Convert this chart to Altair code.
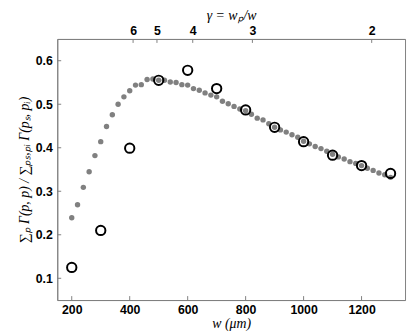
import altair as alt
import pandas as pd

# grey dots (model curve)
w_model = [200, 220, 240, 260, 280, 300, 320, 340, 360, 380,
           400, 420, 440, 460, 480, 500, 520, 540, 560, 580,
           600, 620, 640, 660, 680, 700, 720, 740, 760, 780,
           800, 820, 840, 860, 880, 900, 920, 940, 960, 980,
           1000, 1020, 1040, 1060, 1080, 1100, 1120, 1140, 1160, 1180,
           1200, 1220, 1240, 1260, 1280, 1300]
r_model = [0.239, 0.269, 0.309, 0.345, 0.382, 0.414, 0.449, 0.476, 0.500, 0.517,
           0.531, 0.544, 0.545, 0.557, 0.558, 0.555, 0.555, 0.551, 0.550, 0.545,
           0.544, 0.536, 0.532, 0.526, 0.521, 0.517, 0.507, 0.501, 0.495, 0.489,
           0.485, 0.477, 0.468, 0.464, 0.455, 0.447, 0.441, 0.436, 0.430, 0.424,
           0.415, 0.409, 0.403, 0.398, 0.392, 0.385, 0.379, 0.374, 0.368, 0.364,
           0.359, 0.353, 0.348, 0.342, 0.338, 0.332]

# open circles
w_meas = [200, 300, 400, 500, 600, 700, 800, 900, 1000, 1100, 1200, 1300]
r_meas = [0.125, 0.210, 0.399, 0.555, 0.578, 0.536, 0.487, 0.447, 0.414, 0.383, 0.359, 0.341]

x_ticks = [200, 400, 600, 800, 1000, 1200]
y_ticks = [0.1, 0.2, 0.3, 0.4, 0.5, 0.6]
gammas = [6, 5, 4, 3, 2]
wp = 2470
gamma_pos = [wp / g for g in gammas]

W, H = 353, 265
xs = alt.Scale(domain=[150, 1350], nice=False, zero=False)
ys = alt.Scale(domain=[0.05, 0.65], nice=False, zero=False)

LBL = dict(labelFont="Liberation Sans", labelFontWeight="bold", labelFontSize=12.5,
           labelColor="black", domainColor="#808080", tickSize=0, grid=False)
TTL = dict(titleFont="Liberation Serif", titleFontStyle="italic", titleFontWeight="normal",
           titleFontSize=14, titleColor="black")

df_model = pd.DataFrame({"w": w_model, "r": r_model})
df_meas = pd.DataFrame({"w": w_meas, "r": r_meas})
df_xt = pd.DataFrame({"w": x_ticks})
df_yt = pd.DataFrame({"r": y_ticks})
df_gt = pd.DataFrame({"w": gamma_pos})

dots = alt.Chart(df_model).mark_circle(size=30, color="#808080", opacity=1).encode(
    x=alt.X("w:Q", scale=xs, axis=alt.Axis(values=x_ticks, title="w (μm)", format="d",
                                           labelPadding=4, titlePadding=0, **LBL, **TTL)),
    y=alt.Y("r:Q", scale=ys, axis=alt.Axis(values=y_ticks, format=".1f",
                                           title="∑ₚ Γ(p, p) / ∑ₚₛ,ₚᵢ Γ(pₛ, pᵢ)",
                                           labelPadding=5, titlePadding=4, **LBL, **TTL)),
)

circles = alt.Chart(df_meas).mark_point(size=90, filled=False, color="black",
                                        strokeWidth=2, opacity=1).encode(
    x=alt.X("w:Q", scale=xs, axis=alt.Axis(orient="top", values=gamma_pos,
                                           labelExpr=f"round({wp}/datum.value)",
                                           title="γ = wₚ/w", labelPadding=2,
                                           titlePadding=2, **LBL, **TTL)),
    y=alt.Y("r:Q", scale=ys, axis=None),
)

bt = alt.Chart(df_xt).mark_rule(color="#808080").encode(
    x=alt.X("w:Q", scale=xs, axis=None), y=alt.value(H), y2=alt.value(H - 4))
tt = alt.Chart(df_gt).mark_rule(color="#808080").encode(
    x=alt.X("w:Q", scale=xs, axis=None), y=alt.value(0), y2=alt.value(4))
lt = alt.Chart(df_yt).mark_rule(color="#808080").encode(
    y=alt.Y("r:Q", scale=ys, axis=None), x=alt.value(0), x2=alt.value(4))

chart = alt.layer(bt, tt, lt, dots, circles).resolve_axis(
    x="independent", y="independent"
).properties(
    width=W, height=H,
    autosize=alt.AutoSizeParams(type="none"),
    padding={"left": 50, "top": 29, "right": 2, "bottom": 30},
).configure_view(stroke="#808080", strokeWidth=1)

chart.save("out.html", embed_options={"renderer": "svg", "actions": False})
